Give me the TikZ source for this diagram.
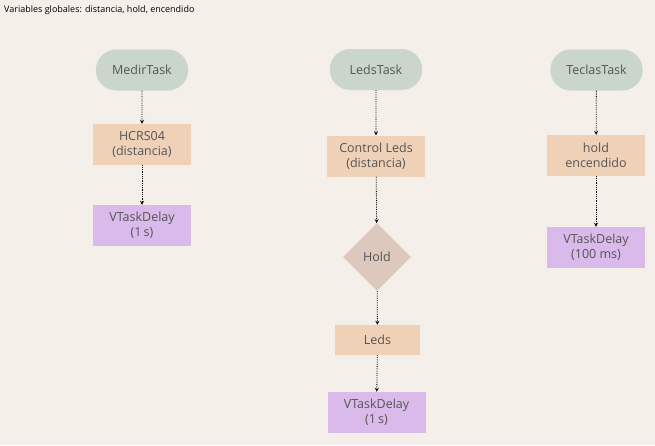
\documentclass[tikz,border=0pt]{standalone}
\usepackage{fontspec}
\setmainfont{Open Sans}
\usepackage{tikz}
\usetikzlibrary{shapes.geometric, arrows, shapes, positioning, backgrounds}

\definecolor{fondo}{HTML}{F4EFE9}
\definecolor{tarea}{HTML}{CAD5CB}
\definecolor{proceso}{HTML}{EFD1B8}
\definecolor{espera}{HTML}{D9BAEB}
\definecolor{decision}{HTML}{DDC8BD}
\definecolor{texto}{HTML}{555555}

\tikzset{
  tarea/.style = {rounded rectangle, fill=tarea, text=texto, minimum width=99pt, minimum height=41pt, font=\fontsize{12.5}{15}\selectfont},
  proceso/.style = {rectangle, fill=proceso, text=texto, minimum width=98pt, minimum height=41pt, align=center, font=\fontsize{12.5}{15}\selectfont},
  espera/.style = {rectangle, fill=espera, text=texto, minimum width=98pt, minimum height=41pt, align=center, font=\fontsize{12.5}{15}\selectfont},
  decision/.style = {diamond, fill=decision, text=texto, minimum width=68pt, minimum height=68pt, inner sep=0pt, font=\fontsize{12.5}{15}\selectfont},
  flecha/.style = {->, >=stealth, densely dotted, thick, shorten >=0pt}
}

\begin{document}
\begin{tikzpicture}[x=1pt, y=-1pt]
\fill [fondo] (0,0) rectangle (655,445);
\useasboundingbox (0,0) rectangle (655,445);

\node (globales) [anchor=west, text=black, font=\fontsize{9}{11}\selectfont, inner sep=0pt] at (4,10) {Variables globales: distancia, hold, encendido};

% MedirTask
\node (medir) [tarea] at (142,70) {MedirTask};
\node (hcrs) [proceso] at (142,144.5) {HCRS04\\(distancia)};
\node (delayMedir) [espera] at (142,225.5) {VTaskDelay\\(1\,s)};

% LedsTask
\node (leds) [tarea] at (376,69.5) {LedsTask};
\node (control) [proceso] at (376,156) {Control Leds\\(distancia)};
\node (hold) [decision] at (377,257) {Hold};
\node (ledsOut) [proceso, minimum width=85pt, minimum height=30pt] at (377.5,340) {Leds};
\node (delayLeds) [espera] at (376.5,412.5) {VTaskDelay\\(1\,s)};

% TeclasTask
\node (teclas) [tarea] at (596.5,70) {TeclasTask};
\node (vars) [proceso] at (596,155.5) {hold\\encendido};
\node (delayTeclas) [espera] at (596,247.5) {VTaskDelay\\(100 ms)};

\draw [flecha] (medir) -- (hcrs);
\draw [flecha] (hcrs) -- (delayMedir);
\draw [flecha] (leds) -- (control);
\draw [flecha] (control) -- (hold);
\draw [flecha] (hold) -- (ledsOut);
\draw [flecha] (ledsOut) -- (delayLeds);
\draw [flecha] (teclas) -- (vars);
\draw [flecha] (vars) -- (delayTeclas);
\end{tikzpicture}
\end{document}
